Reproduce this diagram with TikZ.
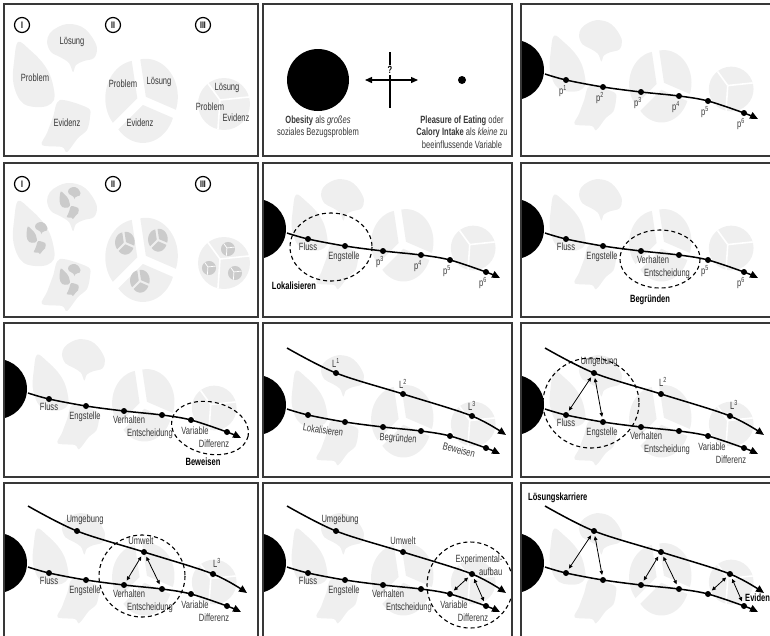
\documentclass[tikz,border=0pt]{standalone}
\usepackage{fontspec}
\setmainfont{Liberation Sans}[FakeStretch=0.72]
\usetikzlibrary{arrows.meta}

\definecolor{blob}{HTML}{EFEFEF}
\definecolor{blobdark}{HTML}{CBCBCB}
\definecolor{ink}{HTML}{383838}

\tikzset{
  frame/.style={draw=ink, line width=1.4pt},
  dot/.style={circle, fill=black, inner sep=0pt, minimum size=6pt},
  disc/.style={circle, fill=black, inner sep=0pt, minimum size=60pt},
  curve/.style={line width=1.5pt, -{Triangle[length=8pt,width=7pt]}},
  link/.style={line width=0.8pt, {Triangle[length=4pt,width=3.6pt]}-{Triangle[length=4pt,width=3.6pt]}, shorten <=2pt, shorten >=2pt},
  zone/.style={line width=1.1pt, dash pattern=on 4pt off 3pt},
  lbl/.style={text=ink, inner sep=0pt, font=\fontsize{10.5}{12.5}\selectfont},
  head/.style={inner sep=0pt, font=\bfseries\fontsize{10.5}{12.5}\selectfont},
  num/.style={circle, draw, line width=1.2pt, minimum size=15pt, inner sep=0pt, font=\bfseries\fontsize{9.5}{9.5}\selectfont},
}

% pieces, in the coordinates of the first panel
\newcommand{\piecesI}[1]{%
  \fill[#1] plot[smooth cycle, tension=0.6] coordinates {(14,38) (26,46) (38,58) (46,71) (50,86) (50,96) (43,102) (31,103) (20,100) (13,91) (9,76) (10,58)};
  \fill[#1] plot[smooth cycle, tension=0.6] coordinates {(43,38) (46,29) (54,23) (63,20) (73,21) (81,25) (88,33) (93,44) (90,54) (80,57) (72,61) (69,68) (65,59) (56,53) (47,48)};
  \fill[#1] plot[smooth cycle, tension=0.5] coordinates {(56,96) (84,104) (86,113) (83,126) (74,134) (63,148) (58,143) (38,141) (43,129) (49,113)};
}
\newcommand{\piecesII}[1]{%
  \foreach \a/\b in {140/260, 260/380, 20/140} {
    \pgfmathsetmacro{\m}{(\a+\b)/2}
    \fill[#1] ({138+5*cos(\m)},{96+5*sin(\m)}) -- plot[domain=\a:\b, samples=25] ({138+5*cos(\m)+32*cos(\x)},{96+5*sin(\m)+38*sin(\x)}) -- cycle;
  }
}
\newcommand{\piecesIII}[2]{%
  \fill[#1] (220,100) circle[radius=26];
  \begin{scope}
    \clip (220,100) circle[radius=26];
    \foreach \a in {234,354,94} \draw[white, line width=#2] (216,96) -- ++(\a:34);
  \end{scope}
}
\newcommand{\miniI}[1]{\begin{scope}[shift={#1}, scale=0.25, shift={(-51,-84)}]\piecesI{blobdark}\end{scope}}
\newcommand{\miniII}[1]{\begin{scope}[shift={#1}, scale=0.27, shift={(-138,-96)}]\piecesII{blobdark}\end{scope}}
\newcommand{\miniIII}[1]{\begin{scope}[shift={#1}, scale=0.27, shift={(-220,-100)}]\piecesIII{blobdark}{0.7pt}\end{scope}}

% problem, pieces and the path of steps
\newcommand{\basescene}{%
  \begin{scope}[shift={(21,-1)}, scale=0.86]
    \piecesI{blob} \piecesII{blob} \piecesIII{blob}{1.6pt}
  \end{scope}
  \node[disc] (obes) at (-7,66) {};
  \coordinate (s) at (24,70);
  \coordinate (e) at (237,115);
  \node[dot] (d1) at (45,76) {};
  \node[dot] (d2) at (82,83) {};
  \node[dot] (d3) at (120,88) {};
  \node[dot] (d4) at (158,92) {};
  \node[dot] (d5) at (187,97) {};
  \node[dot] (d6) at (223,109) {};
  \draw[curve] plot[smooth, tension=0.55] coordinates {(s) (d1.center) (d2.center) (d3.center) (d4.center) (d5.center) (d6.center) (e)};
}
% second path above
\newcommand{\upperscene}{%
  \coordinate (t) at (24,9);
  \coordinate (f) at (243,96);
  \node[dot] (u1) at (73,34) {};
  \node[dot] (u2) at (140,55) {};
  \node[dot] (u3) at (209,77) {};
  \draw[curve] plot[smooth, tension=0.55] coordinates {(t) (u1.center) (u2.center) (u3.center) (f)};
}
\newcommand{\steplabels}{%
  \node[lbl] (lf) at ([shift={(0,8)}]d1) {Fluss};
  \node[lbl] (le) at ([shift={(-1,11)}]d2) {Engstelle};
  \node[lbl] (lv) at ([shift={(5,9)}]d3) {Verhalten};
  \node[lbl] (ls) at ([shift={(-12,19)}]d4) {Entscheidung};
  \node[lbl] (lw) at ([shift={(4,11)}]d5) {Variable};
  \node[lbl] (ld) at ([shift={(-13,12)}]d6) {Differenz};
}

\begin{document}
\begin{tikzpicture}[x=1pt, y=-1pt]
\useasboundingbox (0,0) rectangle (770,635);
\clip (0,0) rectangle (770,635);

% (1) loose pieces
\begin{scope}[shift={(4,4)}]
  \piecesI{blob} \piecesII{blob} \piecesIII{blob}{1.6pt}
  \node[num] (n1) at (18,21) {I};
  \node[num] (n2) at (109,21) {II};
  \node[num] (n3) at (199,21) {III};
  \node[lbl] (a1) at (68,38) {Lösung};
  \node[lbl] (a2) at (31,74) {Problem};
  \node[lbl] (a3) at (63,119) {Evidenz};
  \node[lbl] (b1) at (119,80) {Problem};
  \node[lbl] (b2) at (155,78) {Lösung};
  \node[lbl] (b3) at (136,119) {Evidenz};
  \node[lbl] (c1) at (223,84) {Lösung};
  \node[lbl] (c2) at (206,103) {Problem};
  \node[lbl] (c3) at (232,114) {Evidenz};
\end{scope}

% (2) big problem, small variable
\begin{scope}[shift={(263,4)}]
  \node[disc, minimum size=62pt] (big) at (55,76) {};
  \node[dot, minimum size=8pt] (small) at (199,76) {};
  \coordinate (al) at (102,76);
  \coordinate (ar) at (155,76);
  \coordinate (vt) at (127,48);
  \coordinate (vb) at (127,104);
  \draw[line width=1.3pt] (vt) -- (vb);
  \draw[line width=1.3pt, {Triangle[length=7pt,width=6pt]}-{Triangle[length=7pt,width=6pt]}] (al) -- (ar);
  \node[head, fill=white, inner sep=1pt] (q) at (127,66) {?};
  \node[lbl, align=center] (ob) at (55,123) {\textbf{Obesity} als \textit{großes}\\soziales Bezugsproblem};
  \node[lbl, align=center] (pl) at (199,128) {\textbf{Pleasure of Eating} oder\\\textbf{Calory Intake} als \textit{kleine} zu\\beeinflussende Variable};
\end{scope}

% (3) path p1..p6
\begin{scope}
  \clip (521,4) rectangle (780,156);
  \begin{scope}[shift={(521,4)}]
    \basescene
    \foreach \k in {1,...,6}
      \node[lbl] (p\k) at ([shift={(-3,11)}]d\k) {p\textsuperscript{\k}};
  \end{scope}
\end{scope}

% (4) pieces within pieces
\begin{scope}[shift={(4,163)}]
  \piecesI{blob} \piecesII{blob} \piecesIII{blob}{1.6pt}
  \node[num] (m1) at (18,21) {I};
  \node[num] (m2) at (109,21) {II};
  \node[num] (m3) at (199,21) {III};
  \miniI{(66,40)} \miniI{(33,75)} \miniI{(66,117)}
  \miniII{(121,80)} \miniII{(154,77)} \miniII{(136,118)}
  \miniIII{(224,86)} \miniIII{(205,105)} \miniIII{(231,110)}
\end{scope}

% (5) Lokalisieren
\begin{scope}
  \clip (263,163) rectangle (512,317);
  \begin{scope}[shift={(263,163)}]
    \basescene
    \node[lbl] (lf) at ([shift={(0,8)}]d1) {Fluss};
    \node[lbl] (le) at ([shift={(-1,11)}]d2) {Engstelle};
    \foreach \k in {3,...,6}
      \node[lbl] (p\k) at ([shift={(-3,11)}]d\k) {p\textsuperscript{\k}};
    \draw[zone] (68,84) ellipse[x radius=41, y radius=34];
    \node[head] (h5) at (31,123) {Lokalisieren};
  \end{scope}
\end{scope}

% (6) Begruenden
\begin{scope}
  \clip (521,163) rectangle (780,317);
  \begin{scope}[shift={(521,163)}]
    \basescene
    \node[lbl] (lf) at ([shift={(0,8)}]d1) {Fluss};
    \node[lbl] (le) at ([shift={(-1,11)}]d2) {Engstelle};
    \node[lbl] (lv) at ([shift={(12,9)}]d3) {Verhalten};
    \node[lbl] (ls) at ([shift={(-12,19)}]d4) {Entscheidung};
    \foreach \k in {5,6}
      \node[lbl] (p\k) at ([shift={(-3,11)}]d\k) {p\textsuperscript{\k}};
    \draw[zone] (139,96) ellipse[x radius=40, y radius=29];
    \node[head] (h6) at (129,137) {Begründen};
  \end{scope}
\end{scope}

% (7) Beweisen
\begin{scope}
  \clip (4,323) rectangle (258,477);
  \begin{scope}[shift={(4,323)}]
    \basescene
    \steplabels
    \draw[zone, rotate around={-12:(206,105)}] (206,105) ellipse[x radius=39, y radius=26];
    \node[head] (h7) at (199,139) {Beweisen};
  \end{scope}
\end{scope}

% (8) two paths
\begin{scope}
  \clip (263,323) rectangle (512,477);
  \begin{scope}[shift={(263,339)}]
    \basescene
    \upperscene
    \node[lbl] (q1) at ([shift={(0,-10)}]u1) {L\textsuperscript{1}};
    \node[lbl] (q2) at ([shift={(0,-10)}]u2) {L\textsuperscript{2}};
    \node[lbl] (q3) at ([shift={(0,-10)}]u3) {L\textsuperscript{3}};
    \node[lbl, rotate=-8] (r1) at (60,91) {Lokalisieren};
    \node[lbl, rotate=-5] (r2) at (135,100) {Begründen};
    \node[lbl, rotate=-15] (r3) at (196,111) {Beweisen};
  \end{scope}
\end{scope}

% (9) Umgebung
\begin{scope}
  \clip (521,323) rectangle (780,477);
  \begin{scope}[shift={(521,339)}]
    \basescene
    \upperscene
    \steplabels
    \node[lbl] (q1) at ([shift={(5,-11)}]u1) {Umgebung};
    \node[lbl] (q2) at ([shift={(2,-12)}]u2) {L\textsuperscript{2}};
    \node[lbl] (q3) at ([shift={(4,-11)}]u3) {L\textsuperscript{3}};
    \draw[zone] (70,64) ellipse[x radius=48, y radius=45];
    \draw[link] (u1) -- (d1);
    \draw[link] (u1) -- (d2);
  \end{scope}
\end{scope}

% (10) Umwelt
\begin{scope}
  \clip (4,483) rectangle (258,640);
  \begin{scope}[shift={(4,497)}]
    \basescene
    \upperscene
    \steplabels
    \node[lbl] (q1) at ([shift={(8,-11)}]u1) {Umgebung};
    \node[lbl] (q2) at ([shift={(-3,-11)}]u2) {Umwelt};
    \node[lbl] (q3) at ([shift={(4,-11)}]u3) {L\textsuperscript{3}};
    \draw[zone] (138,79) ellipse[x radius=43, y radius=41];
    \draw[link] (u2) -- (d3);
    \draw[link] (u2) -- (d4);
  \end{scope}
\end{scope}

% (11) Experimentalaufbau
\begin{scope}
  \clip (263,483) rectangle (512,640);
  \begin{scope}[shift={(263,497)}]
    \basescene
    \upperscene
    \steplabels
    \node[lbl] (q1) at ([shift={(4,-11)}]u1) {Umgebung};
    \node[lbl] (q2) at ([shift={(0,-11)}]u2) {Umwelt};
    \node[lbl, align=right] (q3) at ([shift={(7,-9)}]u3) {Experimental-\\aufbau};
    \draw[zone] (207,88) ellipse[x radius=43, y radius=43];
    \draw[link] (u3) -- (d5);
    \draw[link] (u3) -- (d6);
  \end{scope}
\end{scope}

% (12) Loesungskarriere
\begin{scope}
  \clip (521,483) rectangle (780,640);
  \node[head, anchor=west] (h12) at (528,498) {Lösungskarriere};
  \begin{scope}[shift={(521,497)}]
    \basescene
    \upperscene
    \draw[link] (u1) -- (d1);
    \draw[link] (u1) -- (d2);
    \draw[link] (u2) -- (d3);
    \draw[link] (u2) -- (d4);
    \draw[link] (u3) -- (d5);
    \draw[link] (u3) -- (d6);
    \node[head, anchor=west] (ev) at (224,101) {Evidenz};
  \end{scope}
\end{scope}

% frames
\foreach \px/\pw in {4/254, 263/249, 521/260}
  \foreach \py/\ph in {4/152, 163/154, 323/154, 483/160}
    \draw[frame] (\px,\py) rectangle ++(\pw,\ph);
\end{tikzpicture}
\end{document}
